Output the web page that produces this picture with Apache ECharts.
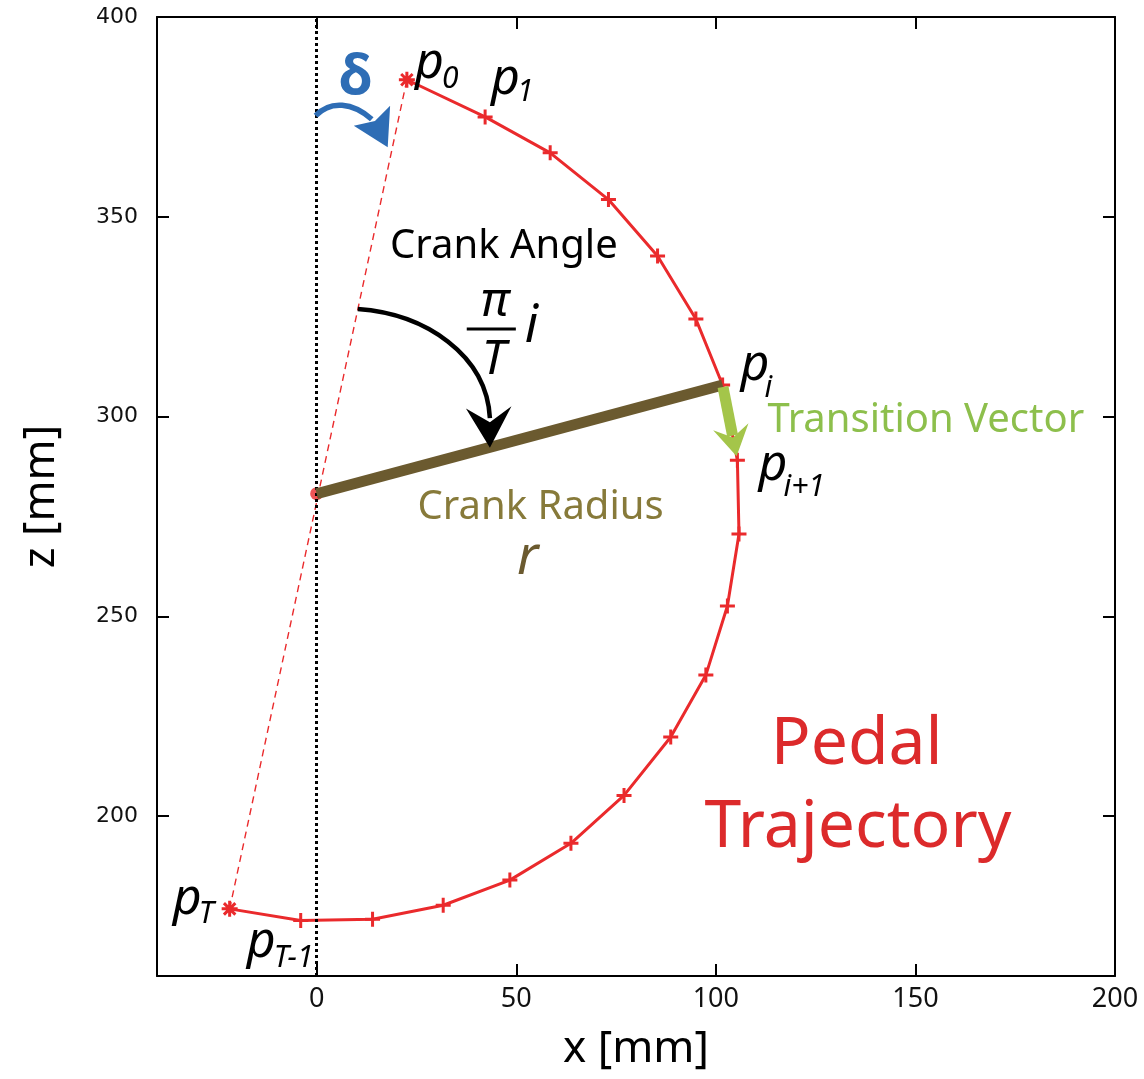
<!DOCTYPE html>
<html><head><meta charset="utf-8">
<script src="https://cdn.jsdelivr.net/npm/echarts@6/dist/echarts.min.js"></script>
<style>html,body{margin:0;padding:0;background:#fff}#c{width:1144px;height:1079px}</style>
</head><body><div id="c"></div><script>
// ---- data ----
const xs = [22.6, 42.2, 58.5, 73.1, 85.4, 95.0, 101.7, 105.4, 105.8, 102.9, 97.5, 88.7, 77.0, 63.7, 48.4, 31.7, 14.0, -4.0, -21.8];
const zs = [384.3, 375.0, 366.0, 354.3, 340.2, 324.4, 307.9, 289.1, 270.6, 252.6, 235.3, 219.8, 205.2, 193.2, 184.0, 177.7, 174.2, 173.9, 176.8];
const crankCenter = [0.0, 280.7];
const xTicks = [0, 50, 100, 150, 200];
const zTicks = [200, 250, 300, 350, 400];
const iIdx = 6;            // p_i
const pointSubs = {0: '0', 1: '1', 6: 'i', 7: 'i+1', 17: 'T-1', 18: 'T'};

const FONT = "'Noto Sans', 'Open Sans', sans-serif";
const RED = '#ea2a2c', BROWN = '#6b5a2f', OLIVE = '#877a3a', GREEN = '#a4c54a', GREEN_T = '#8dbf4c', BLUE = '#2e6db5';
const PLUS = 'path://M0,6L12,6M6,0L6,12';
const STAR = 'path://M0,7L14,7M7,0L7,14M2,2L12,12M12,2L2,12';

const chart = echarts.init(document.getElementById('c'), null, {renderer: 'canvas'});

const trajData = xs.map((x, k) => {
  const star = (k === 0 || k === xs.length - 1);
  return {value: [x, zs[k]], symbol: star ? STAR : PLUS, symbolSize: star ? 16 : 15};
});

const tickStyle = {inside: true, length: 12, lineStyle: {color: '#000', width: 2}};
const lineStyleAxis = {show: true, onZero: false, lineStyle: {color: '#000', width: 2}};

chart.setOption({
  animation: false,
  backgroundColor: '#fff',
  grid: {left: 157, right: 29, top: 17, bottom: 103, containLabel: false},
  xAxis: [
    {type: 'value', min: -40, max: 200, position: 'bottom',
     axisLine: lineStyleAxis,
     axisTick: Object.assign({customValues: xTicks}, tickStyle),
     axisLabel: {customValues: xTicks, fontSize: 27, fontFamily: FONT, color: '#111', margin: 10},
     splitLine: {show: false},
     name: 'x [mm]', nameLocation: 'middle', nameGap: 51,
     nameTextStyle: {fontSize: 44, fontFamily: FONT, color: '#000'}},
    {type: 'value', min: -40, max: 200, position: 'top',
     axisLine: lineStyleAxis,
     axisTick: Object.assign({customValues: xTicks}, tickStyle),
     axisLabel: {show: false}, splitLine: {show: false}}
  ],
  yAxis: [
    {type: 'value', min: 160, max: 400, position: 'left',
     axisLine: lineStyleAxis,
     axisTick: Object.assign({customValues: zTicks}, tickStyle),
     axisLabel: {customValues: zTicks, fontSize: 22, fontFamily: "'DejaVu Sans', sans-serif", color: '#111', margin: 19},
     splitLine: {show: false},
     name: 'z [mm]', nameLocation: 'middle', nameGap: 94, nameRotate: 90,
     nameTextStyle: {fontSize: 44, fontFamily: FONT, color: '#000'}},
    {type: 'value', min: 160, max: 400, position: 'right',
     axisLine: lineStyleAxis,
     axisTick: Object.assign({customValues: zTicks}, tickStyle),
     axisLabel: {show: false}, splitLine: {show: false}}
  ],
  series: [
    {name: 'chord', type: 'line', z: 2, symbol: 'none', silent: true,
     data: [[xs[xs.length - 1], zs[zs.length - 1]], [xs[0], zs[0]]],
     lineStyle: {color: RED, width: 1.4, type: [7, 5]},
     markLine: {silent: true, symbol: ['none', 'none'], label: {show: false},
       lineStyle: {color: '#000', width: 3, type: [3, 3]},
       data: [{xAxis: 0}]}},
    {name: 'center', type: 'scatter', z: 3, symbolSize: 13, itemStyle: {color: RED},
     data: [crankCenter]},
    {name: 'trajectory', type: 'line', z: 4, showAllSymbol: true,
     data: trajData,
     lineStyle: {color: RED, width: 3},
     itemStyle: {color: RED, borderColor: RED, borderWidth: 3}},
    {name: 'crank', type: 'line', z: 5, symbol: 'none',
     data: [crankCenter, [xs[iIdx], zs[iIdx]]],
     lineStyle: {color: BROWN, width: 11, cap: 'butt'}}
  ]
});

// ---- annotations, positioned through the axes ----
const P = (x, z) => chart.convertToPixel({seriesIndex: 2}, [x, z]);
const g = [];
function txt(px, py, text, opt) {
  g.push({type: 'text', x: px, y: py, z: 100, style: Object.assign({
    text: text, fontFamily: FONT, fill: '#000',
    align: 'center', verticalAlign: 'middle', textAlign: 'center', textVerticalAlign: 'middle'}, opt)});
}
function dtxt(x, z, text, opt) { const p = P(x, z); txt(p[0], p[1], text, opt); }

// point labels (pixel offsets from the points)
const labelOff = {
  0: [[8, -16], [35, 0]],
  1: [[6, -37], [32, -24]],
  6: [[18, -19], [42, 3]],
  7: [[21, 6], [46, 27]],
  17: [[-54, 22], [-27, 38]],
  18: [[-57, -9], [-31, 6]]
};
Object.keys(pointSubs).forEach(k => {
  const p = P(xs[k], zs[k]);
  const o = labelOff[k];
  txt(p[0] + o[0][0], p[1] + o[0][1], 'p', {fontSize: 50, fontStyle: 'italic', align: 'left', textAlign: 'left'});
  txt(p[0] + o[1][0], p[1] + o[1][1], pointSubs[k], {fontSize: 30, fontStyle: 'italic', align: 'left', textAlign: 'left'});
});

// texts
dtxt(46.9, 342.5, 'Crank Angle', {fontSize: 40});
dtxt(44.6, 328.6, 'π', {fontSize: 48, fontStyle: 'italic'});
dtxt(44.4, 314.0, 'T', {fontSize: 48, fontStyle: 'italic'});
dtxt(53.8, 322.4, 'i', {fontSize: 52, fontStyle: 'italic'});
(function () {
  const a = P(37.6, 321.9), b = P(49.9, 321.9);
  g.push({type: 'line', z: 100, shape: {x1: a[0], y1: a[1], x2: b[0], y2: b[1]}, style: {stroke: '#000', lineWidth: 3}});
})();
dtxt(56.1, 277.3, 'Crank Radius', {fontSize: 40, fill: OLIVE});
dtxt(52.9, 264.5, 'r', {fontSize: 54, fontStyle: 'italic', fill: BROWN});
dtxt(152.6, 298.9, 'Transition Vector', {fontSize: 40, fill: GREEN_T});
dtxt(135.3, 217.7, 'Pedal', {fontSize: 66, fill: '#dc2a2b'});
dtxt(135.6, 196.9, 'Trajectory', {fontSize: 66, fill: '#dc2a2b'});
dtxt(9.8, 384.6, 'δ', {fontSize: 56, fontWeight: 'bold', fill: BLUE});

// blue delta arrow
(function () {
  const s = P(-0.25, 375.3), c1 = P(3.5, 379.2), c2 = P(9.0, 378.6), e = P(13.8, 374.4);
  g.push({type: 'bezierCurve', z: 100, shape: {x1: s[0], y1: s[1], cpx1: c1[0], cpy1: c1[1], cpx2: c2[0], cpy2: c2[1], x2: e[0], y2: e[1]},
    style: {stroke: BLUE, lineWidth: 5.5, fill: null}});
  const pts = [P(18.4, 377.8), P(14.6, 374.0), P(9.3, 372.8), P(17.8, 367.4)];
  g.push({type: 'polygon', z: 100, shape: {points: pts}, style: {fill: BLUE}});
})();

// black crank-angle arrow
(function () {
  const s = P(10.3, 326.9), c1 = P(27.3, 325.7), c2 = P(42.6, 315.4), e = P(43.4, 299.6);
  g.push({type: 'bezierCurve', z: 100, shape: {x1: s[0], y1: s[1], cpx1: c1[0], cpy1: c1[1], cpx2: c2[0], cpy2: c2[1], x2: e[0], y2: e[1]},
    style: {stroke: '#000', lineWidth: 4.5, fill: null}});
  const pts = [P(43.4, 292.2), P(37.4, 302.0), P(43.4, 298.6), P(48.8, 302.6)];
  g.push({type: 'polygon', z: 100, shape: {points: pts}, style: {fill: '#000'}});
})();

// green transition vector from p_i to p_{i+1}
(function () {
  const A = P(xs[iIdx], zs[iIdx]), B = P(xs[iIdx + 1], zs[iIdx + 1]);
  let dx = B[0] - A[0], dy = B[1] - A[1];
  const L = Math.hypot(dx, dy); dx /= L; dy /= L;
  const nx = -dy, ny = dx;
  const tip = [B[0] - 4 * dx, B[1] - 4 * dy];
  const base = [tip[0] - 30 * dx, tip[1] - 30 * dy];
  const notch = [tip[0] - 19 * dx, tip[1] - 19 * dy];
  g.push({type: 'line', z: 101, shape: {x1: A[0] + 2 * dx, y1: A[1] + 2 * dy, x2: notch[0] - 2 * dx, y2: notch[1] - 2 * dy},
    style: {stroke: GREEN, lineWidth: 11}});
  g.push({type: 'polygon', z: 101, shape: {points: [tip, [base[0] + 18 * nx, base[1] + 18 * ny], notch, [base[0] - 18 * nx, base[1] - 18 * ny]]},
    style: {fill: GREEN}});
})();

chart.setOption({graphic: {elements: g}});
</script></body></html>
